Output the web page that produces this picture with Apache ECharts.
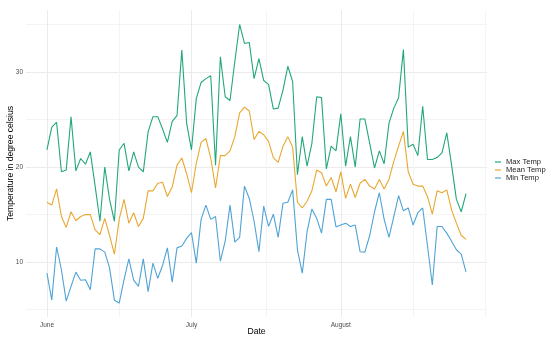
<!DOCTYPE html>
<html>
<head>
<meta charset="utf-8">
<script src="https://cdn.jsdelivr.net/npm/echarts@6/dist/echarts.min.js"></script>
<style>html,body{margin:0;padding:0;background:#fff}#c{width:550px;height:343px}</style>
</head>
<body>
<div id="c"></div>
<script>
// Days since 1 June (1 June .. 27 August)
const startDate = '2023-06-01';
const dayCount = 88;
const days = [];
for (let i = 0; i < dayCount; i++) days.push(i);

const maxTemp = [21.8,24.2,24.7,19.5,19.7,25.3,19.6,20.9,20.3,21.6,18.0,14.3,20.0,16.6,14.3,21.8,22.5,19.6,21.6,20.0,19.5,23.7,25.3,25.3,24.0,22.6,24.8,25.4,32.3,24.6,21.8,27.2,28.9,29.3,29.6,20.2,31.6,27.4,27.0,31.1,35.0,33.0,33.1,29.3,31.4,29.1,28.7,26.1,26.2,28.1,30.6,29.0,19.2,23.2,20.1,22.5,27.4,27.3,19.8,22.2,21.7,25.6,20.1,23.2,20.0,25.05,25.05,22.5,19.9,21.7,20.35,24.6,26.2,27.3,32.35,22.1,22.4,21.2,26.4,20.8,20.8,21.0,21.5,23.6,20.2,16.6,15.3,17.2];
const meanTemp = [16.3,16.0,17.7,14.8,13.65,15.3,14.35,14.8,15.0,15.0,13.4,12.9,14.6,12.8,10.85,14.5,16.6,14.1,15.2,13.75,14.6,17.5,17.5,18.3,18.4,16.9,17.9,20.2,20.95,19.3,17.3,20.4,22.6,23.0,20.95,17.8,21.2,21.2,21.7,23.2,25.7,26.3,25.9,22.9,23.75,23.4,22.7,21.0,20.5,22.2,23.2,22.1,16.3,15.7,16.4,17.5,19.7,19.4,18.0,18.9,17.4,19.5,16.7,18.2,16.8,18.3,18.7,18.0,17.7,18.7,17.7,18.7,20.6,22.2,23.75,19.5,18.2,18.0,18.0,16.9,15.05,17.5,17.3,17.6,15.5,14.1,12.8,12.4];
const minTemp = [8.85,6.0,11.6,9.2,5.9,7.45,8.95,8.1,8.15,7.1,11.4,11.4,11.05,9.4,6.0,5.7,8.15,10.35,8.1,7.45,10.35,6.9,9.9,8.3,9.65,11.5,7.9,11.5,11.7,12.5,13.1,9.9,14.5,16.0,14.5,14.8,10.1,12.2,16.0,12.1,12.6,18.0,16.7,14.3,11.1,15.9,13.75,15.05,12.6,16.2,16.3,17.6,11.3,8.85,13.2,15.6,14.6,13.05,16.6,16.6,13.7,13.9,14.1,13.75,13.9,11.1,11.05,12.8,15.3,17.3,14.5,12.6,14.8,17.0,15.4,15.7,13.9,15.2,15.7,11.7,7.6,13.75,13.75,13.05,12.2,11.3,10.85,8.95];

const seriesNames = ['Max Temp', 'Mean Temp', 'Min Temp'];
const seriesColors = ['#22A77B', '#E9A731', '#4FA3D6'];

const xMajorTicks = [0, 30, 61];
const xTickLabels = ['June', 'July', 'August'];
const xMinorTicks = [15, 45.5, 76, 91];
const yMajorTicks = [10, 20, 30];
const yMinorTicks = [5, 15, 25, 35];

const xMin = -4.35, xMax = 91.35;
const yMin = 4.23, yMax = 36.52;

const pair = (vals) => vals.map((v, i) => [days[i], v]);
const seriesData = [maxTemp, meanTemp, minTemp];

const font = 'Liberation Sans, Arial, sans-serif';
const chart = echarts.init(document.getElementById('c'), null, {renderer: 'canvas'});

const gridMajor = {show: true, lineStyle: {color: '#EBEBEB', width: 1}};
const gridMinor = {show: true, lineStyle: {color: '#F4F4F4', width: 1}};

chart.setOption({
  animation: false,
  backgroundColor: '#ffffff',
  grid: {left: 26, top: 10, width: 461, height: 307, containLabel: false, outerBoundsMode: 'none'},
  legend: {
    orient: 'vertical', left: 495, top: 158,
    data: seriesNames,
    icon: 'rect', itemWidth: 6, itemHeight: 1.2, itemGap: 0,
    textStyle: {fontFamily: font, fontSize: 7.6, color: '#1a1a1a', lineHeight: 7.6, padding: [0,0,0,0]},
    padding: 0
  },
  xAxis: [{
    type: 'value', min: xMin, max: xMax,
    name: 'Date', nameLocation: 'middle', nameGap: 10.5, nameMoveOverlap: false,
    nameTextStyle: {fontFamily: font, fontSize: 8.6, color: '#000'},
    axisLine: {show: false},
    axisTick: {show: false, customValues: xMajorTicks},
    axisLabel: {customValues: xMajorTicks, margin: 5, fontFamily: font, fontSize: 6.5, color: '#4D4D4D',
      formatter: (v) => xTickLabels[xMajorTicks.indexOf(v)] || ''},
    splitLine: gridMajor
  }, {
    type: 'value', min: xMin, max: xMax, gridIndex: 0, position: 'bottom',
    axisLine: {show: false}, axisLabel: {show: false},
    axisTick: {show: false, customValues: xMinorTicks},
    splitLine: gridMinor
  }],
  yAxis: [{
    type: 'value', min: yMin, max: yMax,
    name: 'Temperature in degree celsius', nameLocation: 'middle', nameGap: 10.5, nameMoveOverlap: false,
    nameTextStyle: {fontFamily: font, fontSize: 8.6, color: '#000'},
    axisLine: {show: false},
    axisTick: {show: false, customValues: yMajorTicks},
    axisLabel: {customValues: yMajorTicks, margin: 3, fontFamily: font, fontSize: 6.5, color: '#4D4D4D'},
    splitLine: gridMajor
  }, {
    type: 'value', min: yMin, max: yMax, gridIndex: 0, position: 'left',
    axisLine: {show: false}, axisLabel: {show: false},
    axisTick: {show: false, customValues: yMinorTicks},
    splitLine: gridMinor
  }],
  series: seriesNames.map((name, k) => ({
    name, type: 'line', xAxisIndex: 0, yAxisIndex: 0,
    data: pair(seriesData[k]),
    showSymbol: false, symbol: 'none',
    lineStyle: {color: seriesColors[k], width: 1.1},
    itemStyle: {color: seriesColors[k]},
    z: 10 - k
  }))
});
</script>
</body>
</html>
